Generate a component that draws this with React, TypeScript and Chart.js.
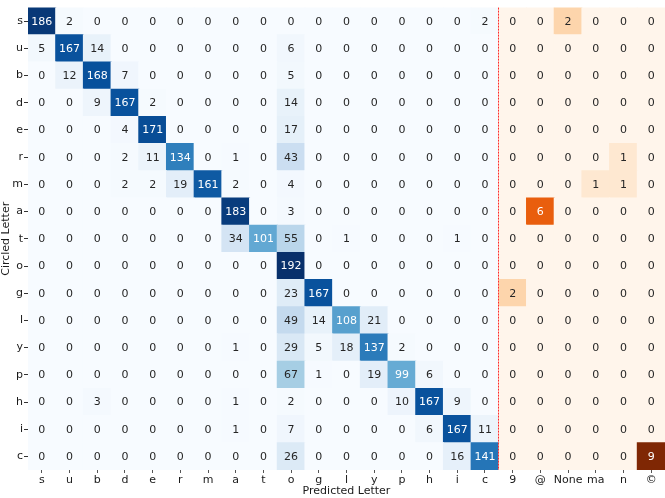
import React, { useEffect, useRef } from 'react';
import { Chart, registerables } from 'chart.js';

Chart.register(...registerables);

const rowLabels = ['s', 'u', 'b', 'd', 'e', 'r', 'm', 'a', 't', 'o', 'g', 'l', 'y', 'p', 'h', 'i', 'c'];
const letterCols = ['s', 'u', 'b', 'd', 'e', 'r', 'm', 'a', 't', 'o', 'g', 'l', 'y', 'p', 'h', 'i', 'c'];
const extraCols = ['9', '@', 'None', 'ma', 'n', '©'];
const colLabels = [...letterCols, ...extraCols];

// rows: circled letter, cols: predicted letter (letters block)
const letterCounts = [
  [186, 2, 0, 0, 0, 0, 0, 0, 0, 0, 0, 0, 0, 0, 0, 0, 2],
  [5, 167, 14, 0, 0, 0, 0, 0, 0, 6, 0, 0, 0, 0, 0, 0, 0],
  [0, 12, 168, 7, 0, 0, 0, 0, 0, 5, 0, 0, 0, 0, 0, 0, 0],
  [0, 0, 9, 167, 2, 0, 0, 0, 0, 14, 0, 0, 0, 0, 0, 0, 0],
  [0, 0, 0, 4, 171, 0, 0, 0, 0, 17, 0, 0, 0, 0, 0, 0, 0],
  [0, 0, 0, 2, 11, 134, 0, 1, 0, 43, 0, 0, 0, 0, 0, 0, 0],
  [0, 0, 0, 2, 2, 19, 161, 2, 0, 4, 0, 0, 0, 0, 0, 0, 0],
  [0, 0, 0, 0, 0, 0, 0, 183, 0, 3, 0, 0, 0, 0, 0, 0, 0],
  [0, 0, 0, 0, 0, 0, 0, 34, 101, 55, 0, 1, 0, 0, 0, 1, 0],
  [0, 0, 0, 0, 0, 0, 0, 0, 0, 192, 0, 0, 0, 0, 0, 0, 0],
  [0, 0, 0, 0, 0, 0, 0, 0, 0, 23, 167, 0, 0, 0, 0, 0, 0],
  [0, 0, 0, 0, 0, 0, 0, 0, 0, 49, 14, 108, 21, 0, 0, 0, 0],
  [0, 0, 0, 0, 0, 0, 0, 1, 0, 29, 5, 18, 137, 2, 0, 0, 0],
  [0, 0, 0, 0, 0, 0, 0, 0, 0, 67, 1, 0, 19, 99, 6, 0, 0],
  [0, 0, 3, 0, 0, 0, 0, 1, 0, 2, 0, 0, 0, 10, 167, 9, 0],
  [0, 0, 0, 0, 0, 0, 0, 1, 0, 7, 0, 0, 0, 0, 6, 167, 11],
  [0, 0, 0, 0, 0, 0, 0, 0, 0, 26, 0, 0, 0, 0, 0, 16, 141],
];

// rows: circled letter, cols: other predictions
const extraCounts = [
  [0, 0, 2, 0, 0, 0],
  [0, 0, 0, 0, 0, 0],
  [0, 0, 0, 0, 0, 0],
  [0, 0, 0, 0, 0, 0],
  [0, 0, 0, 0, 0, 0],
  [0, 0, 0, 0, 1, 0],
  [0, 0, 0, 1, 1, 0],
  [0, 6, 0, 0, 0, 0],
  [0, 0, 0, 0, 0, 0],
  [0, 0, 0, 0, 0, 0],
  [2, 0, 0, 0, 0, 0],
  [0, 0, 0, 0, 0, 0],
  [0, 0, 0, 0, 0, 0],
  [0, 0, 0, 0, 0, 0],
  [0, 0, 0, 0, 0, 0],
  [0, 0, 0, 0, 0, 0],
  [0, 0, 0, 0, 0, 9],
];

const BLUES = ['#f7fbff', '#deebf7', '#c6dbef', '#9ecae1', '#6baed6', '#4292c6', '#2171b5', '#08519c', '#08306b'];
const ORANGES = ['#fff5eb', '#fee6ce', '#fdd0a2', '#fdae6b', '#fd8d3c', '#f16913', '#d94801', '#a63603', '#7f2704'];

function hexToRgb(h: string): number[] {
  const n = parseInt(h.slice(1), 16);
  return [(n >> 16) & 255, (n >> 8) & 255, n & 255];
}

function cmap(stops: string[], t: number): number[] {
  const c = Math.max(0, Math.min(1, t)) * (stops.length - 1);
  const i = Math.min(Math.floor(c), stops.length - 2);
  const f = c - i;
  const a = hexToRgb(stops[i]);
  const b = hexToRgb(stops[i + 1]);
  return [0, 1, 2].map((k) => Math.round(a[k] + (b[k] - a[k]) * f));
}

function lum(rgb: number[]): number {
  const ch = rgb.map((v) => {
    const s = v / 255;
    return s <= 0.03928 ? s / 12.92 : Math.pow((s + 0.055) / 1.055, 2.4);
  });
  return 0.2126 * ch[0] + 0.7152 * ch[1] + 0.0722 * ch[2];
}

const blueMax = Math.max(...letterCounts.flat());
const orangeMax = Math.max(...extraCounts.flat());

function cellValue(r: number, c: number): number {
  return c < letterCols.length ? letterCounts[r][c] : extraCounts[r][c - letterCols.length];
}
function cellRgb(r: number, c: number): number[] {
  const v = cellValue(r, c);
  return c < letterCols.length ? cmap(BLUES, v / blueMax) : cmap(ORANGES, v / orangeMax);
}

const FONT = "'DejaVu Sans', sans-serif";

export default function App() {
  const ref = useRef<HTMLCanvasElement | null>(null);

  useEffect(() => {
    const canvas = ref.current;
    if (!canvas) return;
    const nRows = rowLabels.length;

    // stacked from bottom: first dataset is the last row
    const datasets = rowLabels
      .map((_, r) => r)
      .reverse()
      .map((r) => ({
        label: rowLabels[r],
        data: colLabels.map(() => 1),
        backgroundColor: colLabels.map((_, c) => {
          const rgb = cellRgb(r, c);
          return `rgb(${rgb[0]},${rgb[1]},${rgb[2]})`;
        }),
        borderWidth: 0,
        inflateAmount: 0.5,
        barPercentage: 1,
        categoryPercentage: 1,
      }));

    const cellText = {
      id: 'cellText',
      afterDatasetsDraw(chart: any) {
        const ctx = chart.ctx;
        ctx.save();
        ctx.font = `11px ${FONT}`;
        ctx.textAlign = 'center';
        ctx.textBaseline = 'middle';
        chart.data.datasets.forEach((_: any, d: number) => {
          const r = nRows - 1 - d;
          const meta = chart.getDatasetMeta(d);
          meta.data.forEach((el: any, c: number) => {
            const p = el.getCenterPoint();
            const rgb = cellRgb(r, c);
            ctx.fillStyle = lum(rgb) > 0.408 ? '#262626' : '#ffffff';
            ctx.fillText(String(cellValue(r, c)), p.x, p.y + 0.5);
          });
        });
        // separator between letter block and other predictions
        const xs = chart.scales.x;
        const sx = (xs.getPixelForValue(letterCols.length - 1) + xs.getPixelForValue(letterCols.length)) / 2;
        ctx.strokeStyle = '#ff2a2a';
        ctx.lineWidth = 1;
        ctx.setLineDash([2, 1]);
        ctx.beginPath();
        ctx.moveTo(Math.floor(sx) + 0.5, chart.chartArea.top);
        ctx.lineTo(Math.floor(sx) + 0.5, chart.chartArea.bottom);
        ctx.stroke();
        ctx.restore();
      },
    };

    const chart = new Chart(canvas, {
      type: 'bar',
      data: { labels: colLabels, datasets },
      plugins: [cellText],
      options: {
        animation: false,
        responsive: false,
        layout: { padding: 0 },
        plugins: { legend: { display: false }, tooltip: { enabled: false } },
        scales: {
          x: {
            type: 'category',
            stacked: true,
            afterFit: (axis: any) => {
              axis.height = 28;
            },
            grid: { display: true, drawOnChartArea: false, drawTicks: true, tickLength: 3, offset: false, color: '#555555' },
            border: { display: false },
            ticks: { autoSkip: false, maxRotation: 0, padding: 1, color: '#1a1a1a', font: { family: FONT, size: 11 } },
            title: {
              display: true,
              text: 'Predicted Letter',
              color: '#1a1a1a',
              font: { family: FONT, size: 11 },
              padding: { top: 0, bottom: 0 },
            },
          },
          y: {
            type: 'linear',
            stacked: true,
            min: 0,
            max: nRows,
            afterFit: (axis: any) => {
              axis.width = 28;
            },
            afterBuildTicks: (axis: any) => {
              axis.ticks = rowLabels.map((_, i) => ({ value: i + 0.5 }));
            },
            grid: { display: true, drawOnChartArea: false, drawTicks: true, tickLength: 4, color: '#333333' },
            border: { display: false },
            ticks: {
              autoSkip: false,
              padding: 1,
              color: '#1a1a1a',
              font: { family: FONT, size: 11 },
              callback: (v: any) => rowLabels[nRows - 1 - Math.floor(Number(v))],
            },
            title: {
              display: true,
              text: 'Circled Letter',
              color: '#1a1a1a',
              font: { family: FONT, size: 11 },
              padding: { top: 0, bottom: 0 },
            },
          },
        },
      },
    } as any);

    return () => chart.destroy();
  }, []);

  return (
    <div style={{ position: 'absolute', left: 0, top: 0, width: 665, height: 498, background: '#ffffff' }}>
      <canvas ref={ref} width={665} height={498} style={{ display: 'block' }} />
    </div>
  );
}
